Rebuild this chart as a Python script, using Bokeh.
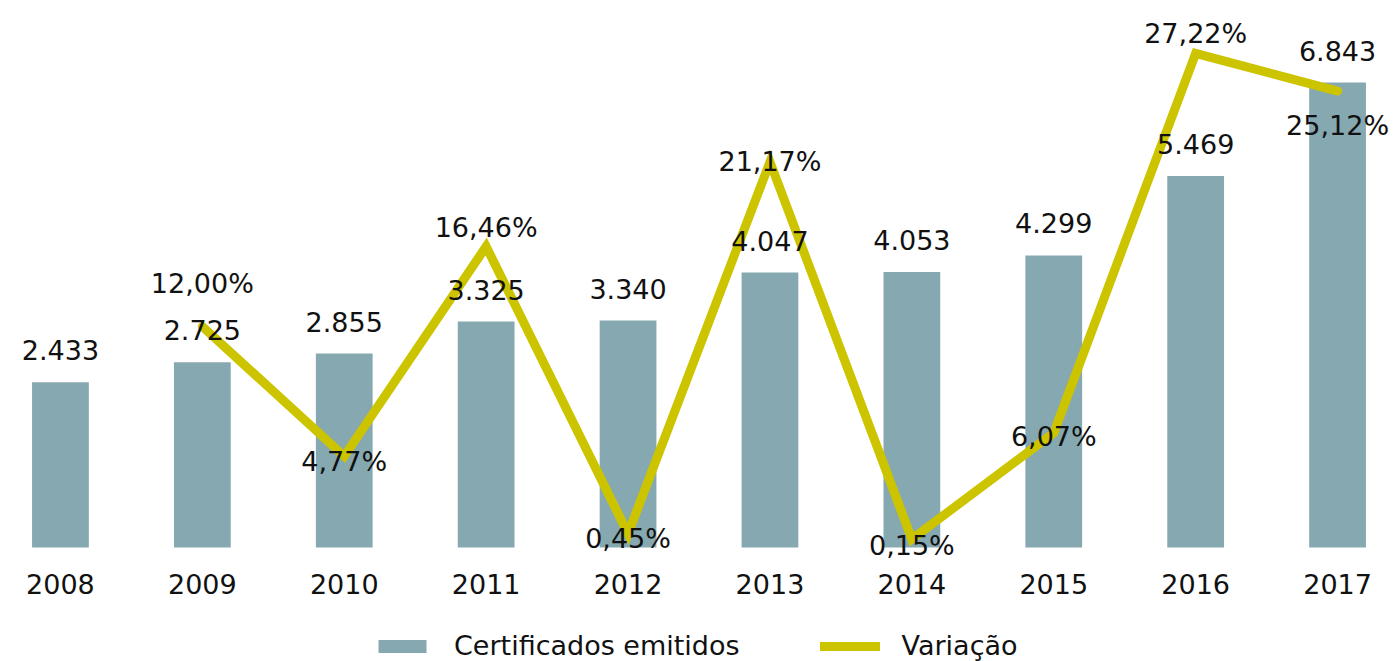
from bokeh.plotting import figure
from bokeh.models import ColumnDataSource, Range1d, Legend, LegendItem, LabelSet
from bokeh.core.properties import value
from bokeh.embed import file_html
from bokeh.resources import INLINE

years = ["2008", "2009", "2010", "2011", "2012", "2013", "2014", "2015", "2016", "2017"]
certificados = [2433, 2725, 2855, 3325, 3340, 4047, 4053, 4299, 5469, 6843]
cert_labels = ["2.433", "2.725", "2.855", "3.325", "3.340", "4.047", "4.053", "4.299", "5.469", "6.843"]
var_years = ["2009", "2010", "2011", "2012", "2013", "2014", "2015", "2016", "2017"]
variacao = [12.00, 4.77, 16.46, 0.45, 21.17, 0.15, 6.07, 27.22, 25.12]
var_labels = ["12,00%", "4,77%", "16,46%", "0,45%", "21,17%", "0,15%", "6,07%", "27,22%", "25,12%"]
var_label_dy = [43, -5, 19, -5, 0, -6, -4, 20, -34]

FONT = "DejaVu Sans"
FS = "27px"
BAR = "#86A9B1"
LINE = "#CDC400"
TXT = "#111111"

xi = list(range(len(years)))
vx = [years.index(y) for y in var_years]

p = figure(frame_width=1382, frame_height=653, output_backend="svg", toolbar_location=None,
           x_range=Range1d(-0.366, 9.373), y_range=Range1d(-1677, 7932),
           min_border_left=8, min_border_right=0, min_border_top=8, min_border_bottom=0)
p.extra_y_ranges = {"pct": Range1d(-6.67, 29.72)}
p.outline_line_color = None
p.grid.visible = False
p.axis.visible = False

bsrc = ColumnDataSource(dict(x=xi, top=certificados, label=cert_labels, year=years, zero=[0] * len(years)))
bars = p.vbar(x="x", top="top", bottom=0, width=0.4, source=bsrc, fill_color=BAR, line_color=None)
p.add_layout(LabelSet(x="x", y="top", text="label", source=bsrc, text_align="center",
                      text_baseline="middle", y_offset=32, text_font=value(FONT),
                      text_font_size=value(FS), text_color=TXT))
p.add_layout(LabelSet(x="x", y="zero", text="year", source=bsrc, text_align="center",
                      text_baseline="middle", y_offset=-36, text_font=value(FONT),
                      text_font_size=value(FS), text_color=TXT))

lsrc = ColumnDataSource(dict(x=vx, y=variacao, label=var_labels, dy=var_label_dy))
line = p.line(x="x", y="y", source=lsrc, y_range_name="pct", line_color=LINE, line_width=9,
              line_cap="round", line_join="miter")
p.add_layout(LabelSet(x="x", y="y", text="label", source=lsrc, y_range_name="pct",
                      text_align="center", text_baseline="middle", y_offset="dy",
                      text_font=value(FONT), text_font_size=value(FS), text_color=TXT))

legend = Legend(items=[LegendItem(label="Certificados emitidos", renderers=[bars]),
                       LegendItem(label="Variação", renderers=[line])],
                orientation="horizontal", location=(364, 0),
                label_text_font=FONT, label_text_font_size=FS, label_text_color=TXT,
                glyph_width=60, glyph_height=16, spacing=80, label_standoff=22,
                border_line_color=None, background_fill_alpha=0, padding=0, margin=0)
p.add_layout(legend)

open("out.html", "w").write(file_html(p, INLINE))
